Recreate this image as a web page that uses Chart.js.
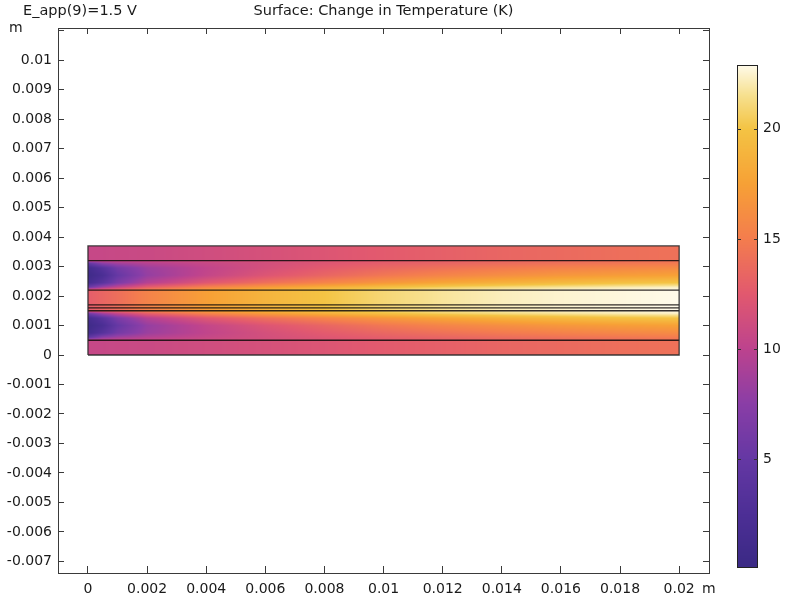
<!DOCTYPE html>
<html><head><meta charset="utf-8">
<script src="https://cdn.jsdelivr.net/npm/chart.js@4.4.0/dist/chart.umd.min.js"></script>
<style>html,body{margin:0;padding:0;background:#fff;}#wrap{width:790px;height:598px;}</style>
</head><body><div id="wrap"><canvas id="c" width="790" height="598"></canvas></div>
<script>
// ---------- data ----------
const xNodes   = [0, 0.0005, 0.001, 0.002, 0.004, 0.006, 0.008, 0.01, 0.012, 0.014, 0.016, 0.018, 0.02];
// temperature change (K) along x for each characteristic row
const plateT   = [10.6, 10.6, 10.7, 10.8, 11.2, 11.6, 12.1, 12.6, 13.0, 13.4, 13.7, 14.0, 14.2]; // outer plates / channel outer wall
const chanNearOuter = [4.5, 7.5, 8.6, 9.6, 10.6, 11.4, 12.2, 12.9, 13.4, 13.9, 14.3, 14.6, 14.9]; // 0.1 mm from outer wall
const chanQuarter   = [1.2, 3.5, 6.0, 8.3, 10.2, 11.5, 12.6, 13.5, 14.2, 14.8, 15.3, 15.7, 16.0]; // 0.25 mm
const chanCenter    = [0.6, 2.2, 5.0, 8.0, 10.4, 12.1, 13.4, 14.6, 15.5, 16.2, 16.8, 17.2, 17.5]; // 0.5 mm
const chanThreeQ    = [1.5, 3.8, 6.5, 9.6, 12.3, 14.1, 15.5, 16.8, 17.8, 18.6, 19.2, 19.7, 20.0]; // 0.75 mm
const chanNearInner = [5.5, 8.5, 10.3, 12.8, 15.3, 17.0, 18.4, 19.6, 20.5, 21.1, 21.6, 22.0, 22.3]; // 0.9 mm
const coreT    = [12.8, 13.4, 14.0, 15.4, 17.4, 18.9, 20.0, 21.0, 21.7, 22.2, 22.5, 22.7, 22.9]; // central layers
const yNodes   = [0, 0.0005, 0.0006, 0.00075, 0.001, 0.00125, 0.0014, 0.0015, 0.0022, 0.0023, 0.00245, 0.0027, 0.00295, 0.0031, 0.0032, 0.0037];
const yRowNames = ['plate','plate','nearOuter','quarter','center','threeQ','nearInner','core','core','nearInner','threeQ','center','quarter','nearOuter','plate','plate'];
const domainX  = [0, 0.02];
const domainY  = [0, 0.0037];
const layerLines = [0.0005, 0.0015, 0.0016, 0.0017, 0.0022, 0.0032];
const xTicks   = [0, 0.002, 0.004, 0.006, 0.008, 0.01, 0.012, 0.014, 0.016, 0.018, 0.02];
const yTicks   = [-0.007, -0.006, -0.005, -0.004, -0.003, -0.002, -0.001, 0, 0.001, 0.002, 0.003, 0.004, 0.005, 0.006, 0.007, 0.008, 0.009, 0.01, 0.011];
const cbTicks  = [5, 10, 15, 20];
const cbRange  = [0.1, 22.9];
const leftTitle = 'E_app(9)=1.5 V';
const mainTitle = 'Surface: Change in Temperature (K)';
const unitLabel = 'm';

// ---------- style ----------
const cmapVals = [0.1, 2.5, 5, 7.5, 10, 12.5, 15, 17.5, 20, 21.5, 22.9];
const cmapCols = ['#3b2a85','#4d2f96','#6538a4','#8a3ea7','#bd438e','#e2596f','#f47d4e','#f7a136','#f4c444','#f7e08e','#fffbea'];
const FONT = "'DejaVu Sans', sans-serif";
const TXT = '#1a1a1a';
const FRAME = '#3a3a3a';

const rowMap = {plate: plateT, nearOuter: chanNearOuter, quarter: chanQuarter, center: chanCenter, threeQ: chanThreeQ, nearInner: chanNearInner, core: coreT};
const rows = yRowNames.map(n => rowMap[n]);
const cmapRGB = cmapCols.map(h => [parseInt(h.slice(1,3),16), parseInt(h.slice(3,5),16), parseInt(h.slice(5,7),16)]);
function cmap(v){
  if (v <= cmapVals[0]) return cmapRGB[0];
  const n = cmapVals.length;
  if (v >= cmapVals[n-1]) return cmapRGB[n-1];
  let k = 0; while (v > cmapVals[k+1]) k++;
  const t = (v - cmapVals[k])/(cmapVals[k+1]-cmapVals[k]);
  const a = cmapRGB[k], b = cmapRGB[k+1];
  return [a[0]+(b[0]-a[0])*t, a[1]+(b[1]-a[1])*t, a[2]+(b[2]-a[2])*t];
}
function seg(arr, v){
  let k = 0; while (k < arr.length-2 && v > arr[k+1]) k++;
  let t = (v-arr[k])/(arr[k+1]-arr[k]); t = Math.max(0, Math.min(1, t));
  return [k, t];
}
function field(xv, yv){
  const [i, tx] = seg(xNodes, xv);
  const [j, ty] = seg(yNodes, yv);
  const r0 = rows[j], r1 = rows[j+1];
  const a = r0[i]+(r0[i+1]-r0[i])*tx;
  const b = r1[i]+(r1[i+1]-r1[i])*tx;
  return a+(b-a)*ty;
}
function fmt(v){ const s = parseFloat(Number(v).toFixed(4)); return s === 0 ? '0' : String(s); }

const heatPlugin = {
  id: 'heat',
  beforeDatasetsDraw(chart){
    const {ctx} = chart; const x = chart.scales.x, y = chart.scales.y;
    const px0 = Math.round(x.getPixelForValue(domainX[0])), px1 = Math.round(x.getPixelForValue(domainX[1]));
    const py0 = Math.round(y.getPixelForValue(domainY[1])), py1 = Math.round(y.getPixelForValue(domainY[0]));
    const w = px1-px0, h = py1-py0;
    const img = ctx.createImageData(w, h);
    for (let r = 0; r < h; r++){
      const yv = y.getValueForPixel(py0+r+0.5);
      for (let c = 0; c < w; c++){
        const xv = x.getValueForPixel(px0+c+0.5);
        const col = cmap(field(xv, yv));
        const o = (r*w+c)*4;
        img.data[o]=col[0]; img.data[o+1]=col[1]; img.data[o+2]=col[2]; img.data[o+3]=255;
      }
    }
    ctx.putImageData(img, px0, py0);
  },
  afterDraw(chart){
    const {ctx, chartArea} = chart; const cb = chart.scales.cb;
    // colorbar
    const bx0 = 737, bw = 20;
    const top = Math.round(cb.getPixelForValue(cbRange[1])), bot = Math.round(cb.getPixelForValue(cbRange[0]));
    for (let p = top; p < bot; p++){
      const col = cmap(cb.getValueForPixel(p+0.5));
      ctx.fillStyle = `rgb(${col[0]|0},${col[1]|0},${col[2]|0})`;
      ctx.fillRect(bx0, p, bw, 1);
    }
    ctx.strokeStyle = '#222'; ctx.lineWidth = 1;
    ctx.strokeRect(bx0+0.5, top+0.5, bw, bot-top);
    ctx.beginPath();
    cbTicks.forEach(v => {
      const p = Math.round(cb.getPixelForValue(v))+0.5;
      ctx.moveTo(bx0, p); ctx.lineTo(bx0+4, p);
      ctx.moveTo(bx0+bw-3, p); ctx.lineTo(bx0+bw+1, p);
    });
    ctx.strokeStyle = '#333'; ctx.stroke();
    // titles
    ctx.fillStyle = TXT; ctx.font = '14.5px ' + FONT; ctx.textBaseline = 'middle';
    ctx.textAlign = 'left'; ctx.fillText(leftTitle, 23, 11);
    ctx.textAlign = 'center'; ctx.fillText(mainTitle, (chartArea.left+chartArea.right)/2, 11);
    ctx.font = '14px ' + FONT;
    ctx.textAlign = 'left'; ctx.fillText(unitLabel, 9, 28);
    ctx.fillText(unitLabel, 702, 589);
  }
};

const lineDs = (pts, col, w) => ({data: pts, showLine: true, pointRadius: 0, borderColor: col, borderWidth: w, fill: false, tension: 0});
const datasets = [
  lineDs([{x:domainX[0],y:domainY[0]},{x:domainX[1],y:domainY[0]},{x:domainX[1],y:domainY[1]},{x:domainX[0],y:domainY[1]},{x:domainX[0],y:domainY[0]}], 'rgba(40,40,40,0.9)', 1.3),
  ...layerLines.map(v => lineDs([{x:domainX[0],y:v},{x:domainX[1],y:v}], 'rgba(15,10,10,0.85)', 1.3))
];

const tickFont = {family: FONT, size: 14};
const gridIn = (len) => ({drawOnChartArea:false, drawTicks:true, tickLength:-len, color:FRAME, lineWidth:1});
const border = {display:true, color:FRAME, width:1};
const fitTo = (prop, val) => s => { s[prop] = val; s.paddingTop = 0; s.paddingBottom = 0; s.paddingLeft = 0; s.paddingRight = 0; };

new Chart(document.getElementById('c'), {
  type: 'scatter',
  data: {datasets},
  plugins: [heatPlugin],
  options: {
    responsive:false, animation:false, devicePixelRatio:1,
    layout:{padding:0},
    plugins:{legend:{display:false}, tooltip:{enabled:false}, title:{display:false}},
    scales:{
      x:{type:'linear', axis:'x', position:'bottom', min:-0.001014, max:0.02101,
         afterBuildTicks:s=>{s.ticks = xTicks.map(v=>({value:v}));},
         ticks:{callback:fmt, font:tickFont, color:TXT, padding:15, maxRotation:0, autoSkip:false},
         grid:gridIn(7), border, afterFit:fitTo('height',25)},
      x2:{type:'linear', axis:'x', position:'top', min:-0.001014, max:0.02101,
         afterBuildTicks:s=>{s.ticks = xTicks.map(v=>({value:v}));},
         ticks:{display:false}, grid:gridIn(6), border, afterFit:fitTo('height',28)},
      y:{type:'linear', axis:'y', position:'left', min:-0.00739, max:0.011085,
         afterBuildTicks:s=>{s.ticks = yTicks.map(v=>({value:v}));},
         ticks:{callback:v=>(Math.abs(v-0.011)<1e-9?'':fmt(v)), font:tickFont, color:TXT, padding:12, autoSkip:false},
         grid:gridIn(6), border, afterFit:fitTo('width',58)},
      y2:{type:'linear', axis:'y', position:'right', weight:0, min:-0.00739, max:0.011085,
         afterBuildTicks:s=>{s.ticks = yTicks.map(v=>({value:v}));},
         ticks:{display:false}, grid:gridIn(6), border, afterFit:fitTo('width',0)},
      cb:{type:'linear', axis:'y', position:'right', weight:1, min:-0.172, max:24.58,
         afterBuildTicks:s=>{s.ticks = cbTicks.map(v=>({value:v}));},
         ticks:{font:tickFont, color:TXT, padding:4, autoSkip:false},
         grid:{display:true, drawOnChartArea:false, drawTicks:true, tickLength:50, color:'rgba(0,0,0,0)'},
         border:{display:false}, afterFit:fitTo('width',81)}
    }
  }
});
</script></body></html>
